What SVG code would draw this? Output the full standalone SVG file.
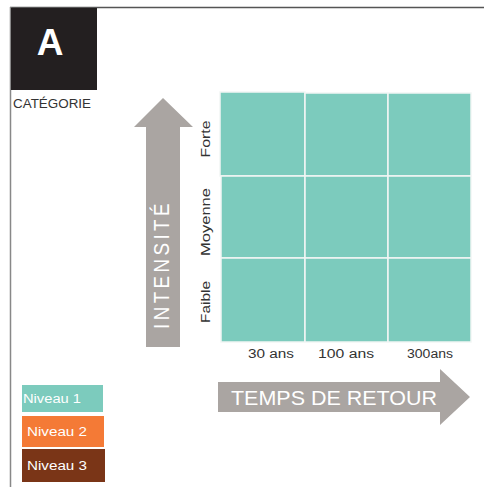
<svg xmlns="http://www.w3.org/2000/svg" width="484" height="487" viewBox="0 0 484 487">
<style>
text{font-family:"Liberation Sans","DejaVu Sans",sans-serif}
.cell{fill:#7ccbbd;stroke:#f2f6f5;stroke-width:1.5}
.lab{font-size:12px;fill:#333}
.wt{fill:#fff}
.arrow{fill:#aaa5a2}
</style>
<rect width="484" height="487" fill="#fff"/>
<g id="frame">
<line x1="10" y1="7.5" x2="484" y2="7.5" stroke="#555" stroke-width="1.5"/>
<line x1="10.5" y1="7" x2="10.5" y2="487" stroke="#888" stroke-width="1.5"/>
</g>
<g id="category">
<rect x="11" y="8" width="86" height="82" fill="#231f20"/>
<text x="50" y="55" text-anchor="middle" font-size="37" font-weight="bold" class="wt">A</text>
<text x="13" y="108" font-size="12" fill="#333" textLength="78" lengthAdjust="spacingAndGlyphs">CATÉGORIE</text>
</g>
<g id="intensite-arrow">
<polygon class="arrow" points="163,98 193,127 180,127 180,347 146,347 146,127 134,127"/>
<text transform="translate(169,329) rotate(-90)" font-size="22" class="wt" textLength="129" lengthAdjust="spacingAndGlyphs" letter-spacing="4">INTENSITÉ</text>
</g>
<g id="row-labels">
<text transform="translate(210,139) rotate(-90)" class="lab" text-anchor="middle" textLength="37" lengthAdjust="spacingAndGlyphs">Forte</text>
<text transform="translate(210,222) rotate(-90)" class="lab" text-anchor="middle" textLength="68" lengthAdjust="spacingAndGlyphs">Moyenne</text>
<text transform="translate(210,302) rotate(-90)" class="lab" text-anchor="middle" textLength="42" lengthAdjust="spacingAndGlyphs">Faible</text>
</g>
<g id="grid">
<rect class="cell" x="220" y="92" width="85" height="84"/>
<rect class="cell" x="305" y="93" width="83" height="83"/>
<rect class="cell" x="388" y="93" width="83" height="83"/>
<rect class="cell" x="221" y="176" width="84" height="82"/>
<rect class="cell" x="305" y="176" width="83" height="82"/>
<rect class="cell" x="388" y="176" width="83" height="82"/>
<rect class="cell" x="221" y="258" width="84" height="84"/>
<rect class="cell" x="305" y="258" width="83" height="84"/>
<rect class="cell" x="388" y="258" width="83" height="84"/>
</g>
<g id="col-labels">
<text x="271" y="358" class="lab" font-size="13" text-anchor="middle" textLength="46" lengthAdjust="spacingAndGlyphs">30 ans</text>
<text x="346" y="358" class="lab" font-size="13" text-anchor="middle" textLength="56" lengthAdjust="spacingAndGlyphs">100 ans</text>
<text x="430" y="358" class="lab" font-size="13" text-anchor="middle" textLength="46" lengthAdjust="spacingAndGlyphs">300ans</text>
</g>
<g id="temps-arrow">
<polygon class="arrow" points="218,382 440,382 440,369 470,397 440,425 440,412 218,412"/>
<text x="231" y="405" font-size="21" class="wt" textLength="206" lengthAdjust="spacingAndGlyphs">TEMPS DE RETOUR</text>
</g>
<g id="legend">
<g id="niveau1"><rect x="22" y="385" width="81" height="27" fill="#7ccbbd"/><text x="23" y="403" font-size="12" class="wt" textLength="58" lengthAdjust="spacingAndGlyphs">Niveau 1</text></g>
<g id="niveau2"><rect x="22" y="416" width="82" height="31" fill="#f47a36"/><text x="27" y="436" font-size="12" class="wt" textLength="60" lengthAdjust="spacingAndGlyphs">Niveau 2</text></g>
<g id="niveau3"><rect x="22" y="449" width="83" height="33" fill="#7a3517"/><text x="27" y="470" font-size="12" class="wt" textLength="60" lengthAdjust="spacingAndGlyphs">Niveau 3</text></g>
</g>
</svg>
